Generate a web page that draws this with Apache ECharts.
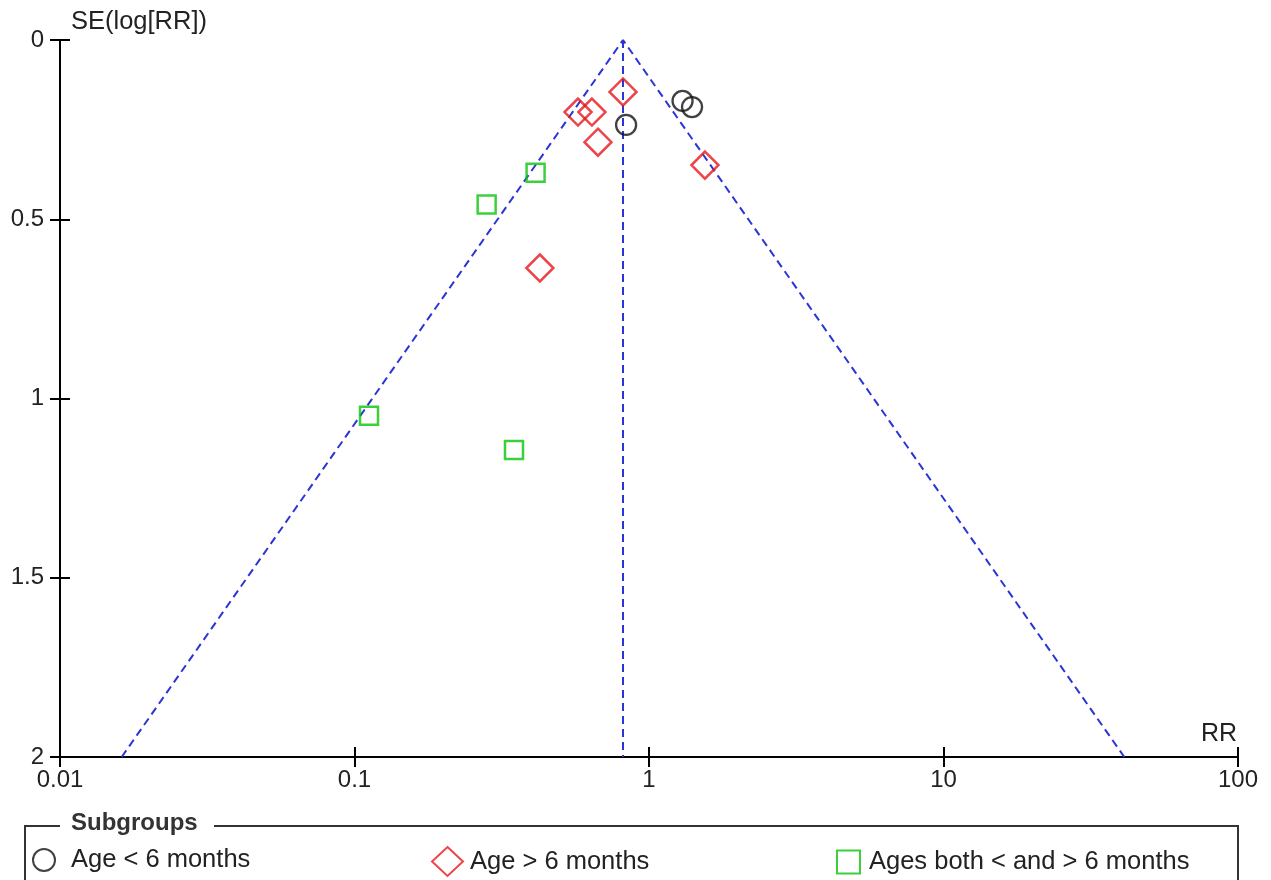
<!DOCTYPE html>
<html>
<head>
<meta charset="utf-8">
<script src="https://cdn.jsdelivr.net/npm/echarts@6/dist/echarts.min.js"></script>
<style>html,body{margin:0;padding:0;background:#fff}#c{width:1271px;height:880px}</style>
</head>
<body>
<div id="c"></div>
<script>
// RR (x), SE(log[RR]) (y)
const ageUnder6 = [[1.30, 0.170], [1.40, 0.187], [0.836, 0.237]];
const ageOver6 = [[0.816, 0.145], [0.574, 0.201], [0.640, 0.201], [0.671, 0.285], [1.549, 0.349], [0.426, 0.636]];
const ageBoth = [[0.412, 0.370], [0.281, 0.459], [0.112, 1.048], [0.348, 1.144]];
const pooledRR = 0.816;
const funnelOutline = [[0.0162, 2], [0.816, 0], [41.1, 2]];
const centerLine = [[0.816, 0], [0.816, 2]];
const xTicks = [0.01, 0.1, 1, 10, 100];
const yTicks = [0, 0.5, 1, 1.5, 2];
const seriesNames = ['Age < 6 months', 'Age > 6 months', 'Ages both < and > 6 months'];

const FONT = 'Liberation Sans';
const chart = echarts.init(document.getElementById('c'), null, {renderer: 'canvas'});
const blue = '#2a35d6';
const txt = '#222';

const xBase = {
  type: 'log', logBase: 10, min: xTicks[0], max: xTicks[xTicks.length - 1],
  splitLine: {show: false}, minorTick: {show: false}
};
const yBase = {type: 'value', inverse: true, min: 0, max: 2, interval: 0.5, splitLine: {show: false}};
const fmtX = v => { const m = xTicks.find(t => Math.abs(t - v) / t < 1e-6); return m === undefined ? '' : String(m); };
const fmtY = v => { const m = yTicks.find(t => Math.abs(t - v) < 1e-6); return m === undefined ? '' : String(m); };

chart.setOption({
  animation: false,
  backgroundColor: '#fff',
  textStyle: {fontFamily: FONT},
  grid: {left: 60, right: 33, top: 40, bottom: 123, containLabel: false},
  xAxis: [
    Object.assign({}, xBase, {
      axisLine: {onZero: false, lineStyle: {color: '#000', width: 2}},
      axisTick: {show: true, length: 10, lineStyle: {color: '#000', width: 2}},
      axisLabel: {fontSize: 24, color: txt, margin: 11, fontFamily: FONT, formatter: fmtX}
    }),
    Object.assign({}, xBase, {
      position: 'bottom',
      axisLine: {show: false, onZero: false},
      axisTick: {show: true, inside: true, length: 10, lineStyle: {color: '#000', width: 2}},
      axisLabel: {show: false}
    })
  ],
  yAxis: [
    Object.assign({}, yBase, {
      axisLine: {show: true, lineStyle: {color: '#000', width: 2}},
      axisTick: {show: true, length: 10, lineStyle: {color: '#000', width: 2}},
      axisLabel: {fontSize: 24, color: txt, margin: 16, fontFamily: FONT, formatter: fmtY}
    }),
    Object.assign({}, yBase, {
      position: 'left',
      axisLine: {show: false, onZero: false},
      axisTick: {show: true, inside: true, length: 10, lineStyle: {color: '#000', width: 2}},
      axisLabel: {show: false}
    })
  ],
  legend: [
    {data: [seriesNames[0]], left: 27, top: 842, itemWidth: 22, itemHeight: 22,
      textStyle: {fontSize: 25.5, color: txt, fontFamily: FONT, padding: [0, 0, 0, 11]}},
    {data: [seriesNames[1]], left: 426, top: 841, itemWidth: 31, itemHeight: 29,
      textStyle: {fontSize: 25.5, color: txt, fontFamily: FONT, padding: [0, 0, 0, 2]}},
    {data: [seriesNames[2]], left: 831, top: 844, itemWidth: 23, itemHeight: 23,
      textStyle: {fontSize: 25.5, color: txt, fontFamily: FONT, padding: [0, 0, 0, 4]}}
  ],
  graphic: [
    {type: 'rect', shape: {x: 25, y: 826, width: 1213, height: 80}, style: {fill: 'none', stroke: '#333', lineWidth: 2}, silent: true, z: 1},
    {type: 'rect', shape: {x: 60, y: 812, width: 154, height: 28}, style: {fill: '#fff'}, silent: true, z: 2},
    {type: 'text', left: 71, top: 811, style: {text: 'Subgroups', font: 'bold 24px "Liberation Sans"', fill: '#333'}, z: 3},
    {type: 'text', left: 71, top: 9, style: {text: 'SE(log[RR])', font: '25.5px "Liberation Sans"', fill: txt}, z: 3},
    {type: 'text', right: 34, top: 722, style: {text: 'RR', font: '25px "Liberation Sans"', fill: txt, textAlign: 'right'}, z: 3}
  ],
  series: [
    {type: 'line', data: funnelOutline, symbol: 'none', silent: true, z: 1,
      lineStyle: {color: blue, width: 2, type: [8, 5]}},
    {type: 'line', data: centerLine, symbol: 'none', silent: true, z: 1,
      lineStyle: {color: blue, width: 2, type: [8, 5]}},
    {name: seriesNames[0], type: 'scatter', data: ageUnder6, symbol: 'circle', symbolSize: 20, z: 3,
      itemStyle: {color: 'rgba(0,0,0,0)', borderColor: '#111', borderWidth: 2.3}},
    {name: seriesNames[1], type: 'scatter', data: ageOver6, symbol: 'diamond', symbolSize: 27, z: 3,
      itemStyle: {color: 'rgba(0,0,0,0)', borderColor: '#e8141c', borderWidth: 2.5}},
    {name: seriesNames[2], type: 'scatter', data: ageBoth, symbol: 'rect', symbolSize: 18, z: 3,
      itemStyle: {color: 'rgba(0,0,0,0)', borderColor: '#0cc40c', borderWidth: 2.5}}
  ]
});
</script>
</body>
</html>
